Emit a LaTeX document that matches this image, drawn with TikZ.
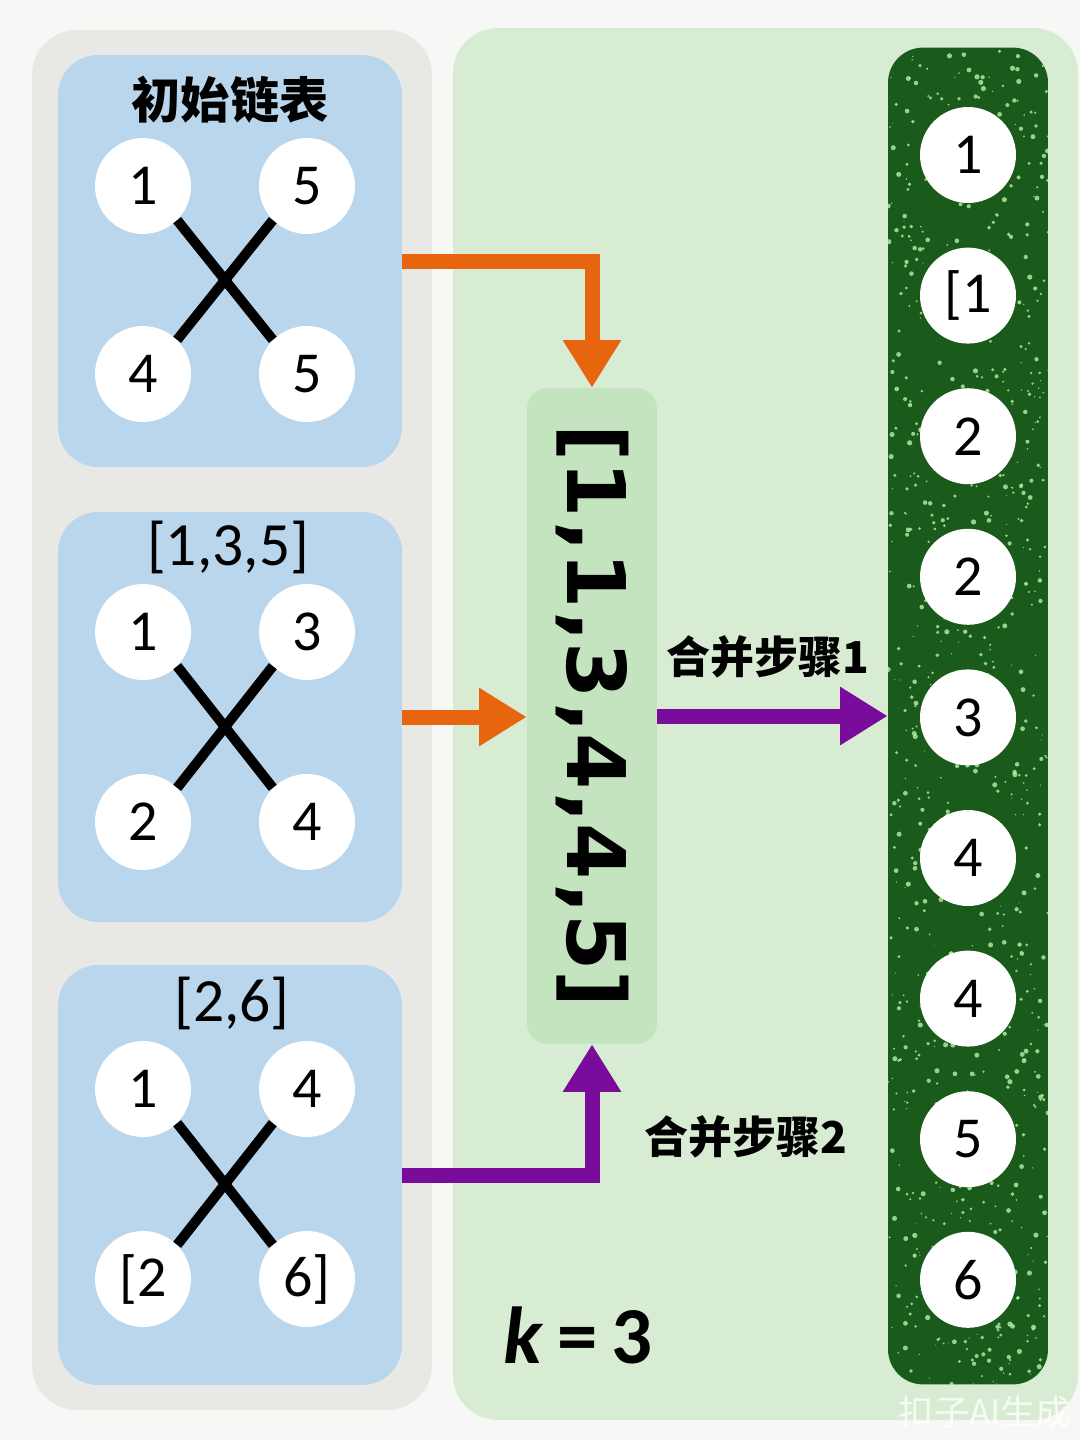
\documentclass[tikz,border=0pt]{standalone}
\usepackage{fontspec}
\setmainfont{Carlito}
\newfontfamily\cjk{Noto Sans CJK SC}
\newfontfamily\boldsans{DejaVu Sans}
\usetikzlibrary{arrows.meta, positioning, calc}
\definecolor{cpaper}{HTML}{F7F7F5}
\definecolor{cgreypanel}{HTML}{E8E8E5}
\definecolor{cgreenpanel}{HTML}{D7ECD2}
\definecolor{cblue}{HTML}{BAD6EC}
\definecolor{cmerge}{HTML}{C3E4BE}
\definecolor{cdark}{HTML}{1A5A1A}
\definecolor{cspeck}{HTML}{B5F0A8}
\definecolor{corange}{HTML}{E8650F}
\definecolor{cpurple}{HTML}{7A0C9C}
\tikzset{
  every picture/.style={x=0.02cm, y=-0.02cm},
  panel/.style={fill=#1, rounded corners=0.9cm},
  listbox/.style={fill=cblue, rounded corners=0.8cm, minimum width=6.88cm, inner sep=0pt},
  ball/.style={circle, fill=white, minimum size=1.92cm, inner sep=0pt, font=\fontsize{33}{36}\selectfont},
  link/.style={line width=0.2cm, draw=black},
  flow/.style={line width=0.3cm, draw=#1, -{Triangle[length=0.95cm, width=1.1cm]}},
  title/.style={font=\cjk\bfseries\fontsize{28}{32}\selectfont},
  listlabel/.style={font=\fontsize{35}{38}\selectfont},
  steplabel/.style={font=\cjk\bfseries\fontsize{25}{28}\selectfont},
}

\begin{document}
\begin{tikzpicture}
  \useasboundingbox (0,0) rectangle (1080,1440);
  \fill[cpaper] (0,0) rectangle (1080,1440);
  % panels
  \fill[panel=cgreypanel] (32,30) rectangle (432,1410);
  \fill[panel=cgreenpanel] (453,28) rectangle (1078,1420);
  % input lists
  \node[listbox, minimum height=8.24cm] (box1) at (230,261) {};
  \node[listbox, minimum height=8.2cm] (box2) at (230,717) {};
  \node[listbox, minimum height=8.4cm] (box3) at (230,1175) {};
  \node[title] (t1) at (230,100) {初始链表};
  \node[listlabel] (t2) at (228,547) {[1,3,5]};
  \node[listlabel] (t3) at (232,1003) {[2,6]};
  \foreach \b/\ya/\yb/\ua/\ub/\la/\lb in {1/186/374/1/5/4/5, 2/632/822/1/3/2/4, 3/1089/1279/1/4/{[2}/{6]}} {
    \node[ball] (b\b a) at (143,\ya) {\ua};
    \node[ball] (b\b b) at (307,\ya) {\ub};
    \node[ball] (b\b c) at (143,\yb) {\la};
    \node[ball] (b\b d) at (307,\yb) {\lb};
    \draw[link] (b\b a.south east) -- (b\b d.north west);
    \draw[link] (b\b b.south west) -- (b\b c.north east);
  }
  % merged list
  \node[fill=cmerge, rounded corners=0.4cm, minimum width=2.6cm, minimum height=13.12cm] (merged) at (592,716) {};
  \node[rotate=-90, font=\boldsans\bfseries\fontsize{46}{50}\selectfont] (mtext) at (merged.center) {[1\kern2pt,1\kern2pt,3\kern2pt,4\kern2pt,4\kern2pt,5]};
  % result column
  \node[fill=cdark, rounded corners=0.7cm, minimum width=3.2cm, minimum height=26.74cm] (result) at (968,716) {};
  \begin{scope}
    \clip[rounded corners=0.7cm] (888,48) rectangle (1048,1385);
    \pgfmathsetseed{17}
    \foreach \i in {1,...,900} {
      \pgfmathsetmacro{\sx}{888+160*rnd}
      \pgfmathsetmacro{\sy}{48+1337*rnd}
      \pgfmathsetmacro{\sr}{0.3+1.2*rnd}
      \fill[cspeck, opacity=0.8] (\sx,\sy) circle (\sr pt);
    }
  \end{scope}
  \foreach \v [count=\i] in {1,{[1},2,2,3,4,4,5,6}
    \node[ball] (r\i) at (968,{155+140.6*(\i-1)}) {\v};
  % arrows
  \draw[flow=corange] (box1.east) -| (merged.north);
  \draw[flow=corange] (box2.east) -- (box2.east -| merged.west);
  \draw[flow=cpurple] (merged.east) -- (merged.east -| result.west);
  \draw[flow=cpurple] (box3.east) -| (merged.south);
  \node[steplabel] (lab1) at (768,657) {合并步骤1};
  \node[steplabel] (lab2) at (746,1137) {合并步骤2};
  \node[font=\bfseries\fontsize{46}{50}\selectfont] (k) at (578,1335) {\textit{k}\,=\,3};
  \node[font=\cjk\fontsize{20}{22}\selectfont, text=white, opacity=0.8] (wm) at (985,1412) {扣子AI生成};
\end{tikzpicture}
\end{document}
